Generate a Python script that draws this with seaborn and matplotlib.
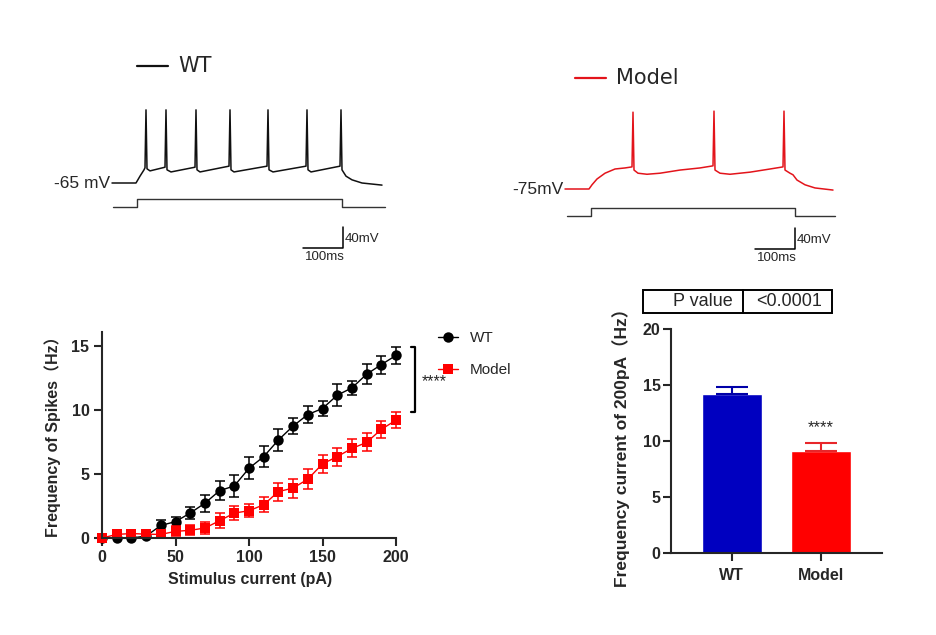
import numpy as np
import matplotlib
matplotlib.use('Agg')
import matplotlib.pyplot as plt
from matplotlib.patches import Rectangle
import seaborn as sns

# ---- example traces (ms, mV) ----
wt_t = [0, 60, 70, 80, 82.5, 85, 87.5, 95, 132.5, 135, 137.5, 147.5,
        207.5, 210, 212.5, 220, 292.5, 295, 297.5, 305, 387.5, 390, 392.5, 402.5,
        485, 487.5, 490, 497.5, 570, 572.5, 575, 585, 600, 625, 675]
wt_mv = [-65, -65, -52, -40, -36, 74, -38, -42, -35, 74, -40, -44,
         -35, 74, -40, -44, -33, 74, -40, -44, -33, 74, -40, -44,
         -33, 74, -40, -44, -33, 74, -40, -52, -59, -65, -69]

md_t = [0, 60, 67.5, 80, 100, 125, 150, 167.5, 170, 172.5, 182.5, 205, 237.5,
        287.5, 337.5, 370, 372.5, 375, 387.5, 412.5, 462.5, 512.5, 545, 547.5,
        550, 562.5, 570, 580, 600, 625, 670]
md_mv = [-75, -75, -67, -56, -45, -37, -35, -33, 71, -39, -45, -47, -45,
         -39, -35, -31, 73, -39, -45, -47, -43, -37, -33, 73,
         -39, -45, -48, -58, -67, -73, -77]

# current step (pA)
stim_pa = [0, 0, 200, 200, 0, 0]
wt_stim_t = [2.5, 62.5, 62.5, 575, 575, 682.5]
md_stim_t = [5, 65, 65, 575, 575, 675]

# ---- F-I curve (mean +/- SEM) ----
current_pa = [0, 10, 20, 30, 40, 50, 60, 70, 80, 90, 100,
              110, 120, 130, 140, 150, 160, 170, 180, 190, 200]
wt_freq = [0, 0, 0, 0.15, 0.98, 1.28, 1.95, 2.72, 3.7, 4.07, 5.45,
           6.36, 7.66, 8.75, 9.65, 10.12, 11.16, 11.73, 12.8, 13.55, 14.27]
wt_sem = [0, 0, 0, 0.1, 0.45, 0.4, 0.45, 0.67, 0.74, 0.87, 0.86,
          0.8, 0.86, 0.65, 0.65, 0.62, 0.85, 0.52, 0.78, 0.7, 0.65]
md_freq = [0, 0.28, 0.35, 0.3, 0.28, 0.52, 0.6, 0.78, 1.35, 1.95, 2.13,
           2.6, 3.63, 3.9, 4.6, 5.79, 6.36, 7.0, 7.47, 8.49, 9.21]
md_sem = [0, 0.15, 0.2, 0.15, 0.2, 0.4, 0.4, 0.45, 0.6, 0.55, 0.5,
          0.6, 0.7, 0.75, 0.8, 0.7, 0.7, 0.7, 0.7, 0.65, 0.6]

# ---- frequency at 200 pA ----
groups = ['WT', 'Model']
bar_mean = [14.22, 9.13]
bar_sem = [0.63, 0.68]
bar_colors = ['#0000c0', '#ff0000']
err_colors = ['#0000a8', '#e8262a']

sns.set_style('ticks')
plt.rcParams['font.family'] = ['Liberation Sans', 'Noto Sans CJK SC', 'DejaVu Sans']

W, H = 936, 635
fig = plt.figure(figsize=(W / 100, H / 100), dpi=100)


def px_axes(x0, y0, x1, y1):
    # axes placed by pixel box (top-left origin)
    return fig.add_axes([x0 / W, 1 - y1 / H, (x1 - x0) / W, (y1 - y0) / H])


# ---------------- traces ----------------
def draw_trace(ax, t, mv, color, stim_t, stim_off, name, rest_label, name_t, name_v, sb_x, sb_y):
    ax.plot(t, mv, color=color, lw=1.1)
    ax.plot(stim_t, [stim_off + p * 0.08 for p in stim_pa], color='#333333', lw=1.0)
    ax.text(-4, mv[0], rest_label, ha='right', va='center', fontsize=12.5)
    # legend line + name
    ax.plot([name_t - 102, name_t - 25], [name_v, name_v], color=color, lw=1.6)
    ax.text(name_t, name_v, name, ha='left', va='center', fontsize=15,
            family='DejaVu Sans')
    # scale bar: 100 ms / 40 mV
    ax.plot([sb_x - 100, sb_x, sb_x], [sb_y, sb_y, sb_y + 40], color='black', lw=1.1)
    ax.text(sb_x + 4, sb_y + 17, '40mV', ha='left', va='center', fontsize=9.5)
    ax.text(sb_x - 45, sb_y - 18, '100ms', ha='center', va='center', fontsize=9.5)
    ax.axis('off')


ax_wt = px_axes(40, 50, 400, 270)
draw_trace(ax_wt, wt_t, wt_mv, '#111111', wt_stim_t, -110.6, 'WT', '-65 mV',
           165, 157, 577.5, -188.5)
ax_wt.set_xlim(-180, 720)
ax_wt.set_ylim(-230.3, 187.7)

ax_md = px_axes(500, 50, 850, 270)
draw_trace(ax_md, md_t, md_mv, '#e3141b', md_stim_t, -126.3, 'Model', '-75mV',
           127.5, 136, 575, -189)
ax_md.set_xlim(-162.5, 712.5)
ax_md.set_ylim(-228.9, 189.1)

# ---------------- F-I curve ----------------
ax1 = px_axes(102, 332, 396, 538)
for freq, sem, col, mk, ms, lab in [(wt_freq, wt_sem, 'black', 'o', 7.5, 'WT'),
                                     (md_freq, md_sem, '#ff0000', 's', 6.5, 'Model')]:
    ax1.errorbar(current_pa, freq, yerr=sem, fmt='none', ecolor=col,
                 elinewidth=1.1, capsize=3.5, capthick=1.1, clip_on=False)
    sns.lineplot(x=current_pa, y=freq, color=col, lw=1.0, marker=mk, markersize=ms,
                 markeredgewidth=0, label=lab, clip_on=False, ax=ax1)

ax1.set_xlim(0, 200)
ax1.set_ylim(0, 16.1)
ax1.set_xticks([0, 50, 100, 150, 200])
ax1.set_yticks([0, 5, 10, 15])
sns.despine(ax=ax1)
for s in ['left', 'bottom']:
    ax1.spines[s].set_linewidth(1.5)
ax1.tick_params(width=1.5, length=5.5, pad=3.5, labelsize=11.5)
for lbl in ax1.get_xticklabels() + ax1.get_yticklabels():
    lbl.set_fontweight('bold')
ax1.set_xlabel('Stimulus current (pA)', fontsize=11.5, fontweight='bold')
ax1.set_ylabel('Frequency of Spikes（Hz）', fontsize=11.5, fontweight='bold')
ax1.xaxis.set_label_coords(0.503, -0.165)
ax1.yaxis.set_label_coords(-0.139, 0.51)

ax1.legend(loc='upper left', bbox_to_anchor=(438 / W, 1 - 331 / H),
           bbox_transform=fig.transFigure, frameon=False, fontsize=11,
           handlelength=1.3, handletextpad=0.8, labelspacing=1.2,
           borderpad=0, borderaxespad=0)

# significance bracket
tr = ax1.get_yaxis_transform()
ax1.plot([1.051, 1.065, 1.065, 1.051], [14.9, 14.9, 9.84, 9.84], color='black',
         lw=1.6, transform=tr, clip_on=False)
ax1.text(1.086, 11.85, '****', ha='left', va='baseline', fontsize=11.5,
         transform=tr)

# ---------------- bar chart ----------------
ax2 = px_axes(671, 329, 882, 553)
sns.barplot(x=groups, y=bar_mean, hue=groups, palette=bar_colors, width=0.667,
            saturation=1, legend=False, ax=ax2)
for i in range(len(groups)):
    ax2.errorbar([i], [bar_mean[i]], yerr=[[0], [bar_sem[i]]], fmt='none',
                 ecolor=err_colors[i], elinewidth=1.5, capsize=11.5, capthick=1.5)
ax2.text(1, 10.75, '****', ha='center', va='baseline', fontsize=12)

ax2.set_xlim(-0.68, 1.68)
ax2.set_ylim(0, 20)
ax2.set_yticks([0, 5, 10, 15, 20])
sns.despine(ax=ax2)
for s in ['left', 'bottom']:
    ax2.spines[s].set_linewidth(1.5)
ax2.tick_params(width=1.5, length=6, labelsize=11.5)
ax2.tick_params(axis='y', pad=1.5)
ax2.tick_params(axis='x', pad=5)
for lbl in ax2.get_xticklabels() + ax2.get_yticklabels():
    lbl.set_fontweight('bold')
ax2.set_xlabel('')
ax2.set_ylabel('Frequency current of 200pA（Hz）', fontsize=12.5, fontweight='bold')
ax2.yaxis.set_label_coords(-0.194, 0.49)

# P value box
ax2.add_patch(Rectangle((-0.133, 1.071), 0.896, 0.103, transform=ax2.transAxes,
                        fill=False, lw=1.4, edgecolor='black', clip_on=False))
ax2.plot([0.341, 0.341], [1.071, 1.174], color='black', lw=1.4,
         transform=ax2.transAxes, clip_on=False)
ax2.text(0.294, 1.123, 'P value', ha='right', va='center', fontsize=13,
         transform=ax2.transAxes)
ax2.text(0.559, 1.123, '<0.0001', ha='center', va='center', fontsize=13,
         transform=ax2.transAxes)

fig.savefig('out.png', dpi=100)
